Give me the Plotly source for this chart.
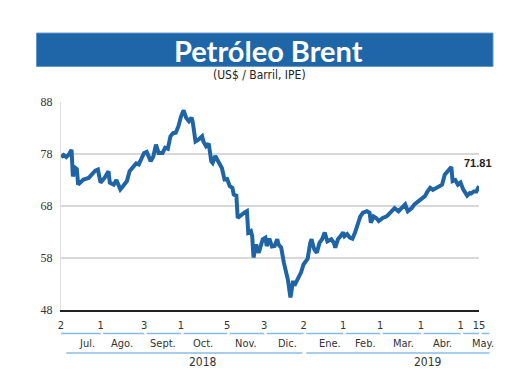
import plotly.graph_objects as go
import pandas as pd

# ---- data ----
dates = [
    "2018-07-02", "2018-07-04", "2018-07-06", "2018-07-08", "2018-07-10", "2018-07-11", "2018-07-13", "2018-07-14",
    "2018-07-15", "2018-07-17", "2018-07-19", "2018-07-23", "2018-07-25", "2018-07-28", "2018-07-30",
    "2018-08-01", "2018-08-04", "2018-08-07", "2018-08-08", "2018-08-11", "2018-08-13", "2018-08-14", "2018-08-16",
    "2018-08-18", "2018-08-21", "2018-08-23", "2018-08-26", "2018-08-28", "2018-08-30",
    "2018-09-01", "2018-09-03", "2018-09-05", "2018-09-08", "2018-09-10", "2018-09-12", "2018-09-14", "2018-09-17",
    "2018-09-19", "2018-09-21", "2018-09-23", "2018-09-25", "2018-09-27", "2018-09-29",
    "2018-10-01", "2018-10-03", "2018-10-05", "2018-10-07", "2018-10-09", "2018-10-10", "2018-10-12", "2018-10-14",
    "2018-10-17", "2018-10-18", "2018-10-20", "2018-10-22", "2018-10-24", "2018-10-25", "2018-10-27", "2018-10-29",
    "2018-11-01", "2018-11-03", "2018-11-05", "2018-11-07", "2018-11-09", "2018-11-10", "2018-11-12", "2018-11-13",
    "2018-11-16", "2018-11-18", "2018-11-20", "2018-11-21", "2018-11-23", "2018-11-24", "2018-11-25", "2018-11-27",
    "2018-11-29", "2018-11-30",
    "2018-12-02", "2018-12-04", "2018-12-05", "2018-12-07", "2018-12-09", "2018-12-11", "2018-12-13", "2018-12-14",
    "2018-12-16", "2018-12-18", "2018-12-20", "2018-12-21", "2018-12-23", "2018-12-25", "2018-12-26", "2018-12-28",
    "2018-12-31",
    "2019-01-02", "2019-01-05", "2019-01-07", "2019-01-08", "2019-01-10", "2019-01-12", "2019-01-14", "2019-01-16",
    "2019-01-18", "2019-01-20", "2019-01-23", "2019-01-25", "2019-01-26", "2019-01-28", "2019-01-30",
    "2019-02-01", "2019-02-02", "2019-02-04", "2019-02-06", "2019-02-08", "2019-02-10", "2019-02-12", "2019-02-14",
    "2019-02-16", "2019-02-19", "2019-02-21", "2019-02-22", "2019-02-24", "2019-02-26", "2019-02-28",
    "2019-03-03", "2019-03-06", "2019-03-09", "2019-03-12", "2019-03-15", "2019-03-17", "2019-03-20", "2019-03-22",
    "2019-03-25", "2019-03-27", "2019-03-30",
    "2019-04-01", "2019-04-04", "2019-04-06", "2019-04-08", "2019-04-10", "2019-04-13", "2019-04-15", "2019-04-17",
    "2019-04-19", "2019-04-21", "2019-04-22", "2019-04-24", "2019-04-25", "2019-04-27", "2019-04-29",
    "2019-05-01", "2019-05-03", "2019-05-06", "2019-05-08", "2019-05-09", "2019-05-11", "2019-05-13", "2019-05-15",
]
prices = [
    77.4, 77.8, 77.4, 77.9, 78.8, 73.7, 75.3, 75.1,
    72.1, 72.7, 73.1, 73.4, 74.0, 74.8, 75.0,
    72.5, 73.4, 74.7, 72.5, 72.1, 73.0, 72.5, 71.2,
    71.8, 72.8, 74.7, 75.6, 76.2, 76.0,
    77.3, 78.2, 78.4, 76.6, 77.5, 79.8, 78.2, 78.2,
    79.2, 79.0, 81.4, 82.0, 82.1, 83.3,
    85.2, 86.4, 84.9, 84.3, 85.0, 84.0, 80.4, 80.7,
    81.4, 80.4, 79.5, 80.0, 76.6, 76.3, 77.6, 76.6,
    75.3, 73.1, 73.2, 71.8, 71.5, 70.2, 70.0, 65.7,
    66.4, 66.7, 67.0, 62.9, 63.2, 62.2, 58.1, 60.6,
    59.0, 60.0,
    61.6, 61.9, 60.3, 61.7, 60.2, 60.3, 61.6, 60.6,
    60.0, 57.1, 55.2, 53.9, 50.4, 53.6, 52.7, 53.6,
    55.2,
    56.8, 57.8, 60.9, 61.6, 59.7, 59.0, 60.9, 61.6,
    62.9, 61.2, 61.6, 60.9, 60.0, 61.6, 62.2,
    62.9, 62.2, 62.6, 61.9, 61.7, 62.9, 64.4, 66.0,
    66.7, 67.0, 66.7, 64.8, 66.0, 65.7, 65.1,
    65.7, 66.0, 66.7, 67.6, 67.0, 67.6, 68.3, 67.0,
    67.6, 68.3, 68.9,
    69.3, 69.9, 70.8, 71.5, 71.1, 71.5, 71.8, 72.1,
    74.0, 74.6, 75.0, 75.5, 72.8, 73.0, 72.1,
    72.5, 71.2, 70.0, 70.5, 70.4, 70.8, 70.8, 71.81,
]

tick_dates = ["2018-07-02", "2018-08-01", "2018-09-03", "2018-10-01", "2018-11-05", "2018-12-03",
              "2019-01-02", "2019-02-01", "2019-03-01", "2019-04-01", "2019-05-01", "2019-05-15"]
tick_text = ["2", "1", "3", "1", "5", "3", "2", "1", "1", "1", "1", "15"]

month_labels = ["Jul.", "Ago.", "Sept.", "Oct.", "Nov.", "Dic.", "Ene.", "Feb.", "Mar.", "Abr.", "May."]
month_label_dates = ["2018-07-22", "2018-08-17", "2018-09-17", "2018-10-18", "2018-11-19", "2018-12-21",
                     "2019-01-22", "2019-02-18", "2019-03-19", "2019-04-17", "2019-05-18"]
year_labels = ["2018", "2019"]
year_label_dates = ["2018-10-18", "2019-04-06"]
year_spans = [("2018-07-06", "2019-01-01"), ("2019-01-04", "2019-05-23")]

y_ticks = [48, 58, 68, 78, 88]

# ---- geometry (page body adds an 8px offset, compensate) ----
OFF = 8
W, H = 520, 390
PL, PR, PT, PB = 61, 479, 102.3, 310.5   # desired plot-area pixel box in the screenshot
ML = PL - OFF
MT = PT - OFF
MR = W - (PR - OFF)
MB = H - (PB - OFF)
x0 = pd.Timestamp(dates[0])
x1 = pd.Timestamp(dates[-1])


def xp(d):
    return (pd.Timestamp(d) - x0) / (x1 - x0)


def yp(py):
    # screenshot pixel y -> paper y
    return (PB - py) / (PB - PT)


def xpix(px):
    return (px - PL) / (PR - PL)


BLUE = "#1f65a6"
LIGHT = "#86bde8"
NARROW = "Liberation Sans Narrow, DejaVu Sans Condensed, Arial Narrow, sans-serif"

fig = go.Figure()
fig.add_trace(go.Scatter(
    x=dates, y=prices, mode="lines",
    line=dict(color=BLUE, width=4),
    hoverinfo="skip", showlegend=False,
))

shapes = []
annotations = []

# Title banner
shapes.append(dict(type="rect", xref="paper", yref="paper",
                   x0=xpix(36.5), x1=xpix(493), y0=yp(66.7), y1=yp(33.3),
                   fillcolor="#1f66a8", line=dict(color="#5b96cc", width=1), layer="above"))
annotations.append(dict(text="<b>Petróleo Brent</b>", xref="paper", yref="paper",
                        x=xpix(268.5), y=yp(50.5), showarrow=False,
                        font=dict(family="Lato, Open Sans, sans-serif", size=29, color="white"),
                        xanchor="center", yanchor="middle"))
annotations.append(dict(text="(US$ / Barril, IPE)", xref="paper", yref="paper",
                        x=xpix(259), y=yp(75.5), showarrow=False,
                        font=dict(family=NARROW, size=12, color="#222"),
                        xanchor="center", yanchor="middle"))

# Last value label
annotations.append(dict(text="<b>71.81</b>", xref="paper", yref="paper",
                        x=xpix(477.5), y=yp(163.5), showarrow=False,
                        font=dict(family="Liberation Sans, Arial, sans-serif", size=11, color="#222"),
                        xanchor="center", yanchor="middle"))

# Underlines for day tick row
seg_ends = tick_dates[1:] + ["2019-05-23"]
for i, (a, b) in enumerate(zip(tick_dates, seg_ends)):
    start = pd.Timestamp(a) + (pd.Timedelta(days=2) if i > 0 else pd.Timedelta(0))
    shapes.append(dict(type="line", xref="paper", yref="paper",
                       x0=xp(start), x1=xp(b), y0=yp(334), y1=yp(334),
                       line=dict(color=LIGHT, width=1.5)))

# Month labels
for lab, d in zip(month_labels, month_label_dates):
    annotations.append(dict(text=lab, xref="paper", yref="paper", x=xp(d), y=yp(344.5),
                            showarrow=False, xanchor="center", yanchor="middle",
                            font=dict(family=NARROW, size=11, color="#333")))

# Year underlines and labels
for a, b in year_spans:
    shapes.append(dict(type="line", xref="paper", yref="paper",
                       x0=xp(a), x1=xp(b), y0=yp(353.5), y1=yp(353.5),
                       line=dict(color=LIGHT, width=1.5)))
for lab, d in zip(year_labels, year_label_dates):
    annotations.append(dict(text=lab, xref="paper", yref="paper", x=xp(d), y=yp(362.5),
                            showarrow=False, xanchor="center", yanchor="middle",
                            font=dict(family=NARROW, size=12, color="#333")))

fig.update_layout(
    width=W, height=H,
    margin=dict(l=ML, r=MR, t=MT, b=MB),
    paper_bgcolor="white", plot_bgcolor="white",
    shapes=shapes, annotations=annotations,
    showlegend=False,
)
fig.update_xaxes(
    type="date", range=[dates[0], dates[-1]],
    tickmode="array", tickvals=tick_dates, ticktext=tick_text,
    showgrid=False, zeroline=False,
    showline=True, linecolor="#222", linewidth=2,
    ticks="", ticklabelstandoff=4,
    tickfont=dict(family=NARROW, size=11, color="#333"),
)
fig.update_yaxes(
    range=[48, 88], tickmode="array", tickvals=y_ticks,
    showgrid=True, gridcolor="#d8d8d8", gridwidth=1.5,
    zeroline=False, showline=True, linecolor="#e0e0e0", linewidth=1,
    ticks="", ticklabelstandoff=5,
    tickfont=dict(family="Liberation Serif, serif", size=12, color="#333"),
)

fig.write_html("out.html")
